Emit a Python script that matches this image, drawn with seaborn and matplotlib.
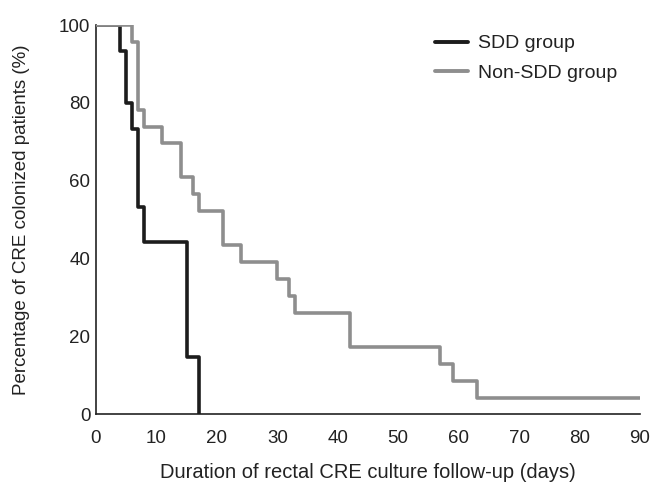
import pandas as pd
import matplotlib
matplotlib.use("Agg")
import matplotlib.pyplot as plt
import seaborn as sns

# Step times (days) and survival (% still colonized)
sdd_days = [0, 4, 5, 6, 7, 8, 15, 17]
sdd_pct = [100, 93.3, 80.0, 73.3, 53.3, 44.4, 14.8, 0]

non_sdd_days = [0, 6, 7, 8, 11, 14, 16, 17, 21, 24, 30, 32, 33, 42, 57, 59, 63, 90]
non_sdd_pct = [100, 95.7, 78.3, 73.9, 69.6, 60.9, 56.5, 52.2, 43.5, 39.1,
               34.8, 30.4, 26.1, 17.4, 13.0, 8.7, 4.3, 4.3]

groups = ["SDD group", "Non-SDD group"]
x_ticks = list(range(0, 91, 10))
y_ticks = list(range(0, 101, 20))

df = pd.concat([
    pd.DataFrame({"day": sdd_days, "pct": sdd_pct, "group": groups[0]}),
    pd.DataFrame({"day": non_sdd_days, "pct": non_sdd_pct, "group": groups[1]}),
], ignore_index=True)

sns.set_style("white")
plt.rcParams["font.family"] = ["Liberation Sans", "DejaVu Sans"]

fig, ax = plt.subplots(figsize=(6.53, 4.83), dpi=100)
sns.lineplot(data=df, x="day", y="pct", hue="group", hue_order=groups,
             palette={groups[0]: "#1c1c1c", groups[1]: "#8e8e8e"},
             drawstyle="steps-post", linewidth=2.6, ax=ax, zorder=3)

ax.set_xlim(0, 90)
ax.set_ylim(0, 100)
ax.set_xticks(x_ticks)
ax.set_yticks(y_ticks)
ax.tick_params(labelsize=13.5, length=0, colors="#222222")
ax.tick_params(axis="x", pad=11)
ax.tick_params(axis="y", pad=4)
ax.set_xlabel("Duration of rectal CRE culture follow-up (days)", fontsize=14.5,
              labelpad=12, color="#222222")
ax.set_ylabel("Percentage of CRE colonized patients (%)", fontsize=13.5,
              labelpad=21, color="#222222")
for side in ["top", "right"]:
    ax.spines[side].set_visible(False)
for side in ["left", "bottom"]:
    ax.spines[side].set_color("#222222")
    ax.spines[side].set_linewidth(1.2)

leg = ax.legend(loc="upper left", bbox_to_anchor=(0.623, 0.975), frameon=False,
                fontsize=14, handlelength=1.7, handletextpad=0.5,
                labelspacing=0.6, borderpad=0, borderaxespad=0)
for line in leg.get_lines():
    line.set_linewidth(2.8)
for txt in leg.get_texts():
    txt.set_color("#222222")

fig.subplots_adjust(left=0.147, right=0.98, top=0.948, bottom=0.142)
fig.savefig("out.png", dpi=100)
